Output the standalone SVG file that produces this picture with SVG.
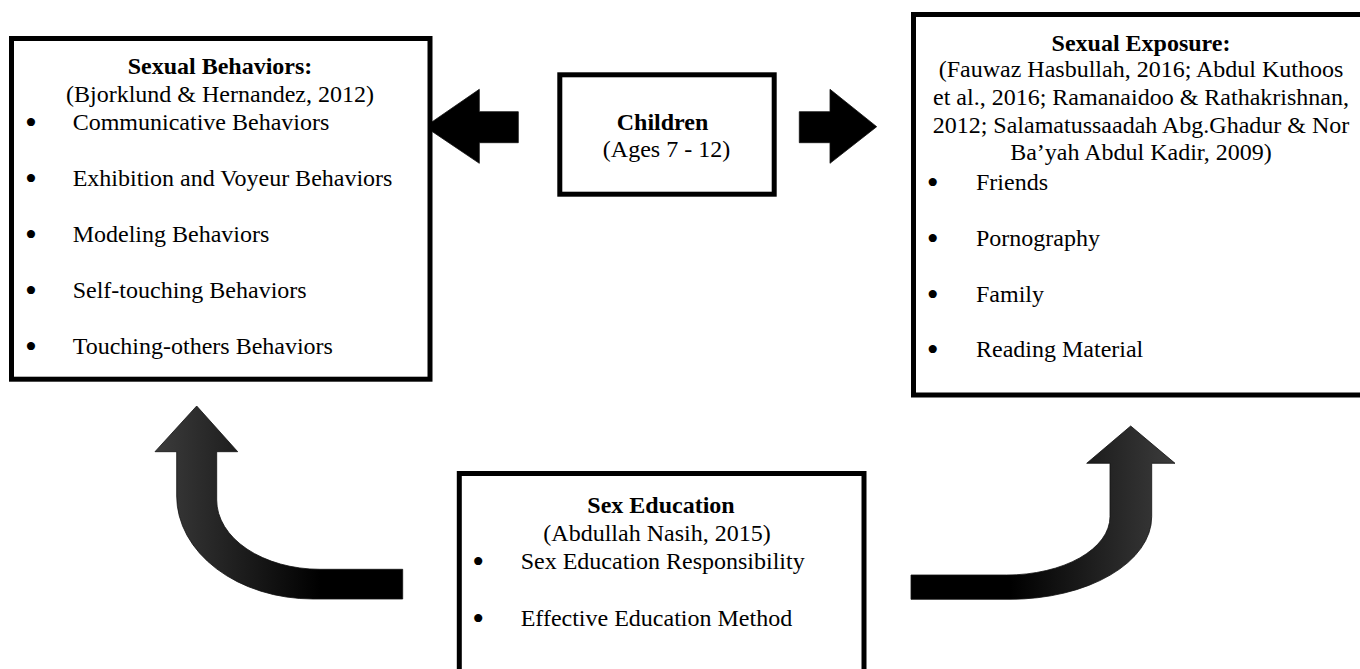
<svg xmlns="http://www.w3.org/2000/svg" width="1360" height="669" viewBox="0 0 1360 669">
  <style>
    .box { fill: #ffffff; stroke: #000000; stroke-width: 5; }
    .t { font-family: "Liberation Serif", "Times New Roman", serif; font-size: 24px; fill: #000000; }
    .b { font-weight: bold; }
    .c { text-anchor: middle; }
    .bul { font-family: "Liberation Serif", "Times New Roman", serif; font-size: 34px; fill: #000000; text-anchor: middle; }
    .arr { stroke: #111111; stroke-width: 0.8; stroke-linejoin: miter; }
  </style>
  <defs>
    <linearGradient id="gL" gradientUnits="userSpaceOnUse" x1="155" y1="0" x2="320" y2="0">
      <stop offset="0" stop-color="#3c3c3c"/>
      <stop offset="1" stop-color="#000000"/>
    </linearGradient>
    <linearGradient id="gR" gradientUnits="userSpaceOnUse" x1="1175" y1="0" x2="1010" y2="0">
      <stop offset="0" stop-color="#3c3c3c"/>
      <stop offset="1" stop-color="#000000"/>
    </linearGradient>
  </defs>
  <rect width="1360" height="669" fill="#ffffff"/>

  <g id="connectors">
    <path class="arr" fill="#000000" d="M518.3,111.7 L479.3,111.7 L479.3,89.3 L425,126.7 L479.3,163.3 L479.3,142.7 L518.3,142.7 Z"/>
    <path class="arr" fill="#000000" d="M799.3,111.7 L830,111.7 L830,89.3 L876.7,126.7 L830,163.3 L830,142.7 L799.3,142.7 Z"/>
    <path class="arr" fill="url(#gL)" d="M176.7,451.7 L176.7,496 A136.3,103 0 0 0 313,599 L402.7,599 L402.7,569.3 L320,569.3 A103.3,69.3 0 0 1 216.7,500 L216.7,451.7 L237.7,451.7 L196.7,406 L155,451.7 Z"/>
    <path class="arr" fill="url(#gR)" d="M1151.7,463.3 L1151.7,516.7 A141.7,82.6 0 0 1 1010,599.3 L911,599.3 L911,575 L1006.7,575 A103.3,58.3 0 0 0 1110,516.7 L1110,463.3 L1086.7,463.3 L1130.7,426 L1175,463.3 Z"/>
  </g>

  <g id="sexual-behaviors">
    <rect class="box" x="11.5" y="38.5" width="418.5" height="340.7"/>
    <text class="t b c" x="220" y="74">Sexual Behaviors:</text>
    <text class="t c" x="220" y="101.5">(Bjorklund &amp; Hernandez, 2012)</text>
    <text class="bul" x="31" y="134">•</text>
    <text class="t" x="72.7" y="130">Communicative Behaviors</text>
    <text class="bul" x="31" y="190">•</text>
    <text class="t" x="72.7" y="186">Exhibition and Voyeur Behaviors</text>
    <text class="bul" x="31" y="246">•</text>
    <text class="t" x="72.7" y="242">Modeling Behaviors</text>
    <text class="bul" x="31" y="302">•</text>
    <text class="t" x="72.7" y="298">Self-touching Behaviors</text>
    <text class="bul" x="31" y="358">•</text>
    <text class="t" x="72.7" y="354">Touching-others Behaviors</text>
  </g>

  <g id="children">
    <rect class="box" x="559.8" y="74.8" width="214.4" height="119.4"/>
    <text class="t b c" x="662.5" y="130">Children</text>
    <text class="t c" x="666.5" y="156.5">(Ages 7 - 12)</text>
  </g>

  <g id="sexual-exposure">
    <rect class="box" x="913.5" y="14.5" width="460" height="380.5"/>
    <text class="t b c" x="1141" y="50.7">Sexual Exposure:</text>
    <text class="t c" x="1141" y="77.3">(Fauwaz Hasbullah, 2016; Abdul Kuthoos</text>
    <text class="t c" x="1141" y="105">et al., 2016; Ramanaidoo &amp; Rathakrishnan,</text>
    <text class="t c" x="1141" y="132.7">2012; Salamatussaadah Abg.Ghadur &amp; Nor</text>
    <text class="t c" x="1141" y="160">Ba’yah Abdul Kadir, 2009)</text>
    <text class="bul" x="932.7" y="194">•</text>
    <text class="t" x="976" y="190">Friends</text>
    <text class="bul" x="932.7" y="250">•</text>
    <text class="t" x="976" y="246">Pornography</text>
    <text class="bul" x="932.7" y="305.7">•</text>
    <text class="t" x="976" y="301.7">Family</text>
    <text class="bul" x="932.7" y="361.3">•</text>
    <text class="t" x="976" y="357.3">Reading Material</text>
  </g>

  <g id="sex-education">
    <rect class="box" x="459.3" y="473.5" width="404.7" height="220"/>
    <text class="t b c" x="661" y="513.3">Sex Education</text>
    <text class="t c" x="657" y="540.7">(Abdullah Nasih, 2015)</text>
    <text class="bul" x="478.3" y="573.3">•</text>
    <text class="t" x="520.7" y="569.3">Sex Education Responsibility</text>
    <text class="bul" x="478.3" y="629.7">•</text>
    <text class="t" x="520.7" y="625.7">Effective Education Method</text>
  </g>
</svg>
